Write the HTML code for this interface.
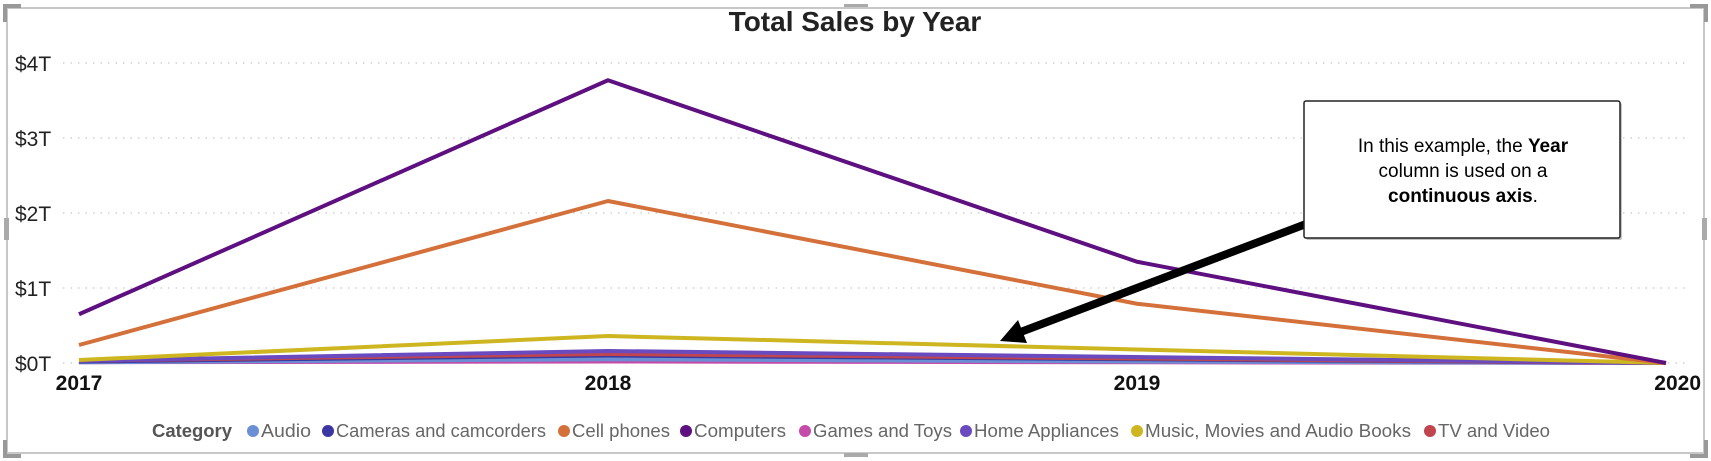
<!DOCTYPE html>
<html><head><meta charset="utf-8"><style>
html,body{margin:0;padding:0;background:#fff;}
svg{display:block;font-family:"Liberation Sans",sans-serif;}
</style></head><body>
<svg id="chart" width="1711" height="461" viewBox="0 0 1711 461">
  <rect x="7" y="8" width="1697" height="445" fill="none" stroke="#c8c8c8" stroke-width="2"/>
  <path d="M5 22V6h16M1690 6h16v16M5 440v16h16M1690 456h16v-16" fill="none" stroke="#999" stroke-width="4"/>
  <rect x="4" y="218" width="5" height="22" fill="#aaa"/>
  <rect x="1702" y="218" width="5" height="22" fill="#aaa"/>
  <rect x="844" y="4" width="24" height="3" fill="#aaa"/>
  <rect x="844" y="453" width="24" height="4" fill="#aaa"/>
  <text x="855" y="31" text-anchor="middle" font-size="28" font-weight="bold" fill="#222">Total Sales by Year</text>
  <g id="grid"></g>
  <g id="series"></g>
  <g id="xaxis"></g>
  <g>
    <line x1="1306" y1="224" x2="1018" y2="333" stroke="#000" stroke-width="8"/>
    <polygon points="1000,341 1018,320 1027,343" fill="#000"/>
    <rect x="1306" y="103" width="316" height="137" rx="2" fill="#888" opacity="0.5"/>
    <rect x="1304" y="101" width="316" height="137" rx="2" fill="#fff" stroke="#222" stroke-width="1.5"/>
    <text x="1463" y="152" text-anchor="middle" font-size="19" fill="#000">In this example, the <tspan font-weight="bold">Year</tspan></text>
    <text x="1463" y="177" text-anchor="middle" font-size="19" fill="#000">column is used on a</text>
    <text x="1463" y="202" text-anchor="middle" font-size="19" fill="#000"><tspan font-weight="bold">continuous axis</tspan>.</text>
  </g>
  <g id="legend"></g>
</svg>
<script>
const years = [2017, 2018, 2019, 2020];
const yTicks = [0, 1, 2, 3, 4];
const yTickLabels = ["$0T", "$1T", "$2T", "$3T", "$4T"];
const categories = ["Audio", "Cameras and camcorders", "Cell phones", "Computers", "Games and Toys", "Home Appliances", "Music, Movies and Audio Books", "TV and Video"];
const colors = ["#6b8fd4", "#3a37a2", "#d4703a", "#5e0f80", "#c44ba8", "#6a4bbf", "#cdb620", "#c0454e"];
const audio = [0.01, 0.05, 0.02, 0];
const cameras = [0.02, 0.10, 0.05, 0];
const cellPhones = [0.24, 2.16, 0.79, 0];
const computers = [0.65, 3.77, 1.35, 0];
const gamesToys = [0.01, 0.02, 0.01, 0];
const homeAppliances = [0.03, 0.16, 0.08, 0];
const music = [0.04, 0.36, 0.18, 0];
const tvVideo = [0.03, 0.12, 0.06, 0];
const seriesValues = [audio, cameras, cellPhones, computers, gamesToys, homeAppliances, music, tvVideo];
const drawOrder = [4, 0, 1, 7, 5, 6, 2, 3];

const NS = "http://www.w3.org/2000/svg";
const X0 = 79, X1 = 1666, Y0 = 363, Y1 = 63;
function xScale(yr){ return X0 + (yr - years[0]) / (years[years.length-1] - years[0]) * (X1 - X0); }
function yScale(v){ return Y0 - v / yTicks[yTicks.length-1] * (Y0 - Y1); }
function mk(tag, attrs){ const e = document.createElementNS(NS, tag); for (const k in attrs) e.setAttribute(k, attrs[k]); return e; }

const grid = document.getElementById("grid");
yTicks.forEach((t, i) => {
  const y = yScale(t);
  const ln = mk("line", {x1: 63, x2: 1690, y1: y, y2: y, stroke: "#c8c8c8", "stroke-width": 1.2, "stroke-dasharray": "1.5 6"});
  
  
  grid.appendChild(ln);
  const tx = mk("text", {x: 15, y: y + 8, "font-size": 21, fill: "#222"});
  tx.textContent = yTickLabels[i];
  
  
  grid.appendChild(tx);
});

const xa = document.getElementById("xaxis");
years.forEach((yr, i) => {
  const x = xScale(yr);
  const anchor = i === years.length - 1 ? "end" : "middle";
  const tx = mk("text", {x: i === years.length - 1 ? 1701 : x, y: 390, "font-size": 21, "font-weight": "bold", fill: "#111", "text-anchor": anchor});
  tx.textContent = String(yr);
  
  
  xa.appendChild(tx);
});

const sg = document.getElementById("series");
drawOrder.forEach(ci => {
  const pts = seriesValues[ci].map((v, j) => xScale(years[j]) + "," + yScale(v)).join(" ");
  const pl = mk("polyline", {points: pts, fill: "none", stroke: colors[ci], "stroke-width": 4, "stroke-linejoin": "round"});
  
  
  sg.appendChild(pl);
});

const legendCircleX = [253, 328, 564, 686, 805, 966, 1137, 1430];
const legendTextW = [50, 210, 98, 92, 139, 145, 266, 112];
const lg = document.getElementById("legend");
const ttl = mk("text", {x: 152, y: 437, "font-size": 18, "font-weight": "bold", fill: "#555", textLength: 80, lengthAdjust: "spacingAndGlyphs"});
ttl.textContent = "Category";


lg.appendChild(ttl);
categories.forEach((c, i) => {
  const cx = legendCircleX[i];
  const dot = mk("circle", {cx: cx, cy: 431, r: 6, fill: colors[i]});
  
  
  lg.appendChild(dot);
  const tx = mk("text", {x: cx + 8, y: 437, "font-size": 18, fill: "#666", textLength: legendTextW[i], lengthAdjust: "spacingAndGlyphs"});
  tx.textContent = c;
  
  
  lg.appendChild(tx);
});
</script>
</body></html>
